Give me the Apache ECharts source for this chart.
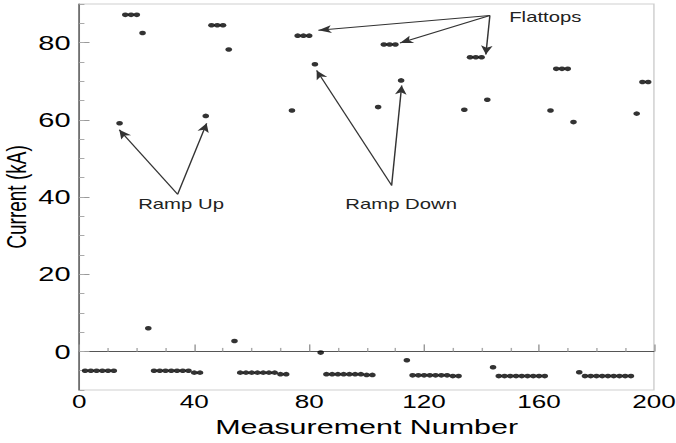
<!DOCTYPE html>
<html><head><meta charset="utf-8">
<script src="https://cdn.jsdelivr.net/npm/echarts@6/dist/echarts.min.js"></script>
<style>
html,body{margin:0;padding:0;background:#fff;overflow:hidden;}
#wrap{width:676px;height:443px;overflow:hidden;position:relative;}
#chart{width:466px;height:443px;transform:scaleX(1.4506);transform-origin:0 0;}
</style></head><body>
<div id="wrap"><div id="chart"></div></div>
<script>
// ---- data ----
const measurementNumber = [2,4,6,8,10,12,14,16,18,20,22,24,26,28,30,32,34,36,38,40,42,
  44,46,48,50,52,54,56,58,60,62,64,66,68,70,72,
  74,76,78,80,82,84,86,88,90,92,94,96,98,100,102,
  104,106,108,110,112,114,116,118,120,122,124,126,128,130,132,
  134,136,138,140,142,144,146,148,150,152,154,156,158,160,162,
  164,166,168,170,172,174,176,178,180,182,184,186,188,190,192,
  194,196,198];
const currentKA = [-5.0,-5.0,-5.0,-5.0,-5.0,-5.0,
  59.1,87.2,87.2,87.2,82.5,6.0,
  -5.0,-5.0,-5.0,-5.0,-5.0,-5.0,-5.0,-5.5,-5.5,
  61.0,84.5,84.5,84.5,78.2,2.7,
  -5.5,-5.5,-5.5,-5.5,-5.5,-5.5,-5.5,-5.9,-5.9,
  62.4,81.8,81.8,81.8,74.4,-0.3,
  -5.9,-5.9,-5.9,-5.9,-5.9,-5.9,-5.9,-6.1,-6.1,
  63.3,79.5,79.5,79.5,70.2,-2.3,
  -6.2,-6.2,-6.2,-6.2,-6.2,-6.2,-6.2,-6.4,-6.4,
  62.6,76.2,76.2,76.2,65.2,-4.1,
  -6.4,-6.4,-6.4,-6.4,-6.4,-6.4,-6.4,-6.4,-6.4,
  62.4,73.2,73.2,73.2,59.4,-5.4,
  -6.4,-6.4,-6.4,-6.4,-6.4,-6.4,-6.4,-6.4,-6.4,
  61.6,69.8,69.8];
const yTickLabels = [0,20,40,60,80];
const xTickLabels = [0,40,80,120,160,200];

// ---- annotations (in data units) ----
const annotationTexts = ['Ramp Up','Ramp Down','Flattops'];
const annotationAt = [[35.4,38.1],[112,38.1],[162.2,86.5]];
const arrowFrom = [[34.2,40.7],[34.2,40.7],[108.7,43.0],[108.7,43.0],[142.9,87.0],[142.9,87.0],[142.9,87.0]];
const arrowTo = [[13.9,57.4],[44.3,59.1],[82.6,72.8],[112.2,68.9],[83.2,83.2],[111.6,79.9],[141.5,76.9]];

const FONT = '"Liberation Sans", Arial, Helvetica, sans-serif';
const chart = echarts.init(document.getElementById('chart'), null, {renderer:'svg'});
const points = measurementNumber.map((n,i)=>[n,currentKA[i]]);

chart.setOption({
  animation:false,
  backgroundColor:'#fff',
  grid:{left:54.7, right:15.2, top:4, bottom:53, show:true, borderColor:'#cfcfcf', borderWidth:1,
        containLabel:false, outerBoundsMode:'none'},
  xAxis:{
    type:'value', min:0, max:200, interval:40,
    name:'Measurement Number', nameLocation:'middle', nameGap:26, nameMoveOverlap:false,
    nameTextStyle:{fontFamily:FONT, fontSize:21, color:'#000'},
    axisLine:{show:true, lineStyle:{color:'#555', width:1}},
    axisTick:{show:true, inside:true, length:7, lineStyle:{color:'#999'}},
    minorTick:{show:true, splitNumber:4, length:3.5, lineStyle:{color:'#aaa'}},
    splitLine:{show:false},
    axisLabel:{fontFamily:FONT, fontSize:18, color:'#000', margin:3,
      formatter:v=> xTickLabels.indexOf(v)>=0 ? String(v) : ''}
  },
  yAxis:[{
    type:'value', min:-10, max:90, interval:10,
    name:'Current (kA)', nameLocation:'middle', nameGap:34, nameMoveOverlap:false,
    nameTextStyle:{fontFamily:FONT, fontSize:19, color:'#000'},
    axisLine:{show:true, lineStyle:{color:'#555', width:1}},
    axisTick:{show:true, inside:true, length:7, customValues:yTickLabels, lineStyle:{color:'#999'}},
    splitLine:{show:false},
    axisLabel:{fontFamily:FONT, fontSize:20, color:'#000', margin:6, customValues:yTickLabels}
  },{
    type:'value', min:-10, max:90, interval:5, position:'left', offset:0,
    axisLine:{show:false},
    axisTick:{show:true, inside:true, length:3.5, lineStyle:{color:'#aaa'}},
    axisLabel:{show:false}, splitLine:{show:false}
  }],
  series:[{
    type:'scatter', yAxisIndex:0, data:points, symbol:'circle', symbolSize:4.6,
    itemStyle:{color:'#000'}, silent:true,
    markLine:{
      silent:true, symbol:['none','arrow'], symbolSize:[6,9],
      lineStyle:{color:'#333', width:1, type:'solid'},
      label:{show:false},
      data: arrowFrom.map((f,i)=>[{coord:f},{coord:arrowTo[i]}])
    },
    markPoint:{
      silent:true, symbol:'circle', symbolSize:1,
      itemStyle:{color:'rgba(0,0,0,0)'},
      label:{show:true, position:'inside', fontFamily:FONT, fontSize:14, color:'#222', formatter:p=>p.name},
      data: annotationTexts.map((t,i)=>({name:t, coord:annotationAt[i]}))
    }
  }]
});
</script>
</body></html>
